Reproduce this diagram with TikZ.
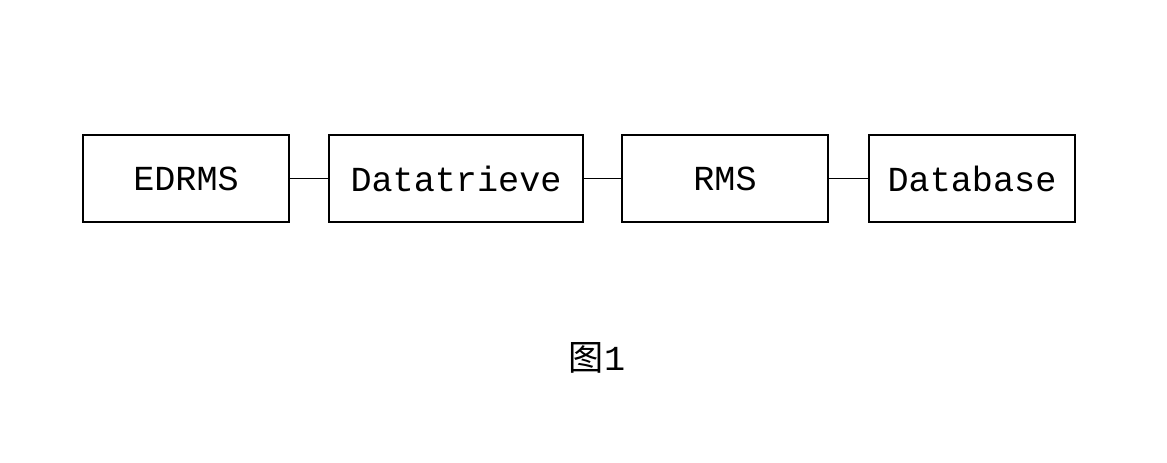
\documentclass[tikz,border=0pt]{standalone}
\usepackage{fontspec}
\setmainfont{Liberation Mono}
\newfontfamily\cjk{Noto Sans CJK SC}
\begin{document}
\begin{tikzpicture}[x=0.025cm, y=-0.025cm,
block/.style={draw, line width=1.2pt, minimum height=2.175cm, inner sep=0, font=\fontsize{25}{25}\selectfont},
link/.style={line width=1.2pt}]
\useasboundingbox (0,0) rectangle (1167,462);
%%%%%%%% BLOCKS %%%%%%%%
\node[block, minimum width=5.15cm] (edrms) at (186,178.5) {EDRMS};
\node[block, minimum width=6.35cm] (datatrieve) at (456,178.5) {Datatrieve};
\node[block, minimum width=5.15cm] (rms) at (725,178.5) {RMS};
\node[block, minimum width=5.15cm] (database) at (972,178.5) {Database};
%%%%%%%% LINKS %%%%%%%%
\draw[link] (edrms) -- (datatrieve);
\draw[link] (datatrieve) -- (rms);
\draw[link] (rms) -- (database);
%%%%%%%% CAPTION %%%%%%%%
\node[font=\fontsize{25}{25}\selectfont] (caption) at (597,358) {{\cjk 图}1};
\end{tikzpicture}
\end{document}
